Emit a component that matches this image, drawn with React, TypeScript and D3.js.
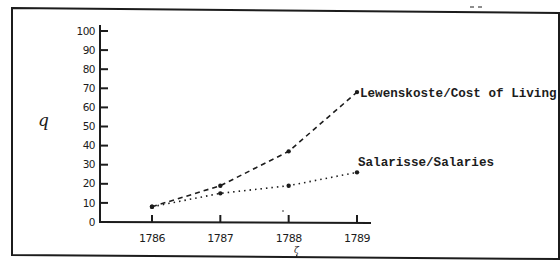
import React from 'react';
import * as d3 from 'd3';

const years = [1786, 1787, 1788, 1789];
const costOfLiving = [8, 19, 37, 68];
const salaries = [8, 15, 19, 26];
const yTicks = [0, 10, 20, 30, 40, 50, 60, 70, 80, 90, 100];
const seriesLabels = ['Lewenskoste/Cost of Living', 'Salarisse/Salaries'];

const W = 560;
const H = 264;

export default function App() {
  const x = d3.scaleLinear().domain([1786, 1789]).range([152, 357]);
  const y = d3.scaleLinear().domain([0, 100]).range([222, 31]);

  const line = d3
    .line<number>()
    .x((_, i) => x(years[i]))
    .y((d) => y(d));

  const ink = '#1c1c1c';
  const tickFont = '"DejaVu Sans", sans-serif';
  const typeFont = '"Liberation Mono", "DejaVu Sans Mono", monospace';

  const lastCost = costOfLiving[costOfLiving.length - 1];
  const lastSal = salaries[salaries.length - 1];
  const lastYear = years[years.length - 1];

  return (
    <svg
      width={W}
      height={H}
      style={{ position: 'absolute', left: 0, top: 0, background: '#fff' }}
    >
      {/* scanned frame, slightly skewed */}
      <path
        d="M12,8 L559,13 L559,259 L12,255 Z"
        fill="none"
        stroke={ink}
        strokeWidth={2}
      />
      {/* scan specks */}
      <path d="M470,7 h4 M478,7 h4" stroke={ink} strokeWidth={1} />
      <circle cx={283} cy={211} r={0.8} fill={ink} />

      {/* y axis */}
      <line x1={100} y1={25} x2={100} y2={y(0) + 1} stroke={ink} strokeWidth={2} />
      {yTicks.map((t) => (
        <g key={t}>
          <line x1={100} x2={108} y1={y(t)} y2={y(t)} stroke={ink} strokeWidth={2} />
          <text
            x={95}
            y={y(t)}
            dy="0.35em"
            textAnchor="end"
            fontFamily={tickFont}
            fontSize={10.5}
            fill={ink}
            letterSpacing={-0.5}
          >
            {t}
          </text>
        </g>
      ))}

      {/* x axis */}
      <line x1={99} y1={y(0)} x2={371} y2={y(0) + 1} stroke={ink} strokeWidth={2} />
      {years.map((yr) => (
        <g key={yr}>
          <line x1={x(yr)} x2={x(yr)} y1={y(0)} y2={y(0) - 7} stroke={ink} strokeWidth={2} />
          <text
            x={x(yr)}
            y={242}
            textAnchor="middle"
            fontFamily={tickFont}
            fontSize={11}
            fill={ink}
            letterSpacing={-0.5}
          >
            {yr}
          </text>
        </g>
      ))}

      {/* handwritten marks */}
      <text x={38} y={126} fontFamily="'DejaVu Serif', serif" fontStyle="italic" fontSize={17} fill={ink}>
        q
      </text>
      <text x={294} y={253} fontFamily="'DejaVu Serif', serif" fontStyle="italic" fontSize={9} fill={ink}>
        ζ
      </text>
      <path d="M297,255 l-1,2.5" stroke={ink} strokeWidth={1.2} fill="none" />

      {/* series */}
      <path
        d={line(costOfLiving) || ''}
        fill="none"
        stroke={ink}
        strokeWidth={1.6}
        strokeDasharray="5 4"
      />
      <path
        d={line(salaries) || ''}
        fill="none"
        stroke={ink}
        strokeWidth={1.6}
        strokeDasharray="1.5 4"
      />
      {costOfLiving.map((v, i) => (
        <circle key={'c' + i} cx={x(years[i])} cy={y(v)} r={2.2} fill={ink} />
      ))}
      {salaries.map((v, i) => (
        <circle key={'s' + i} cx={x(years[i])} cy={y(v)} r={2.2} fill={ink} />
      ))}

      {/* series labels */}
      <text
        x={x(lastYear) + 3}
        y={y(lastCost) + 5}
        fontFamily={typeFont}
        fontWeight="bold"
        fontSize={12.6}
        fill={ink}
      >
        {seriesLabels[0]}
      </text>
      <text
        x={x(lastYear) + 1}
        y={y(lastSal) - 6}
        fontFamily={typeFont}
        fontWeight="bold"
        fontSize={12.6}
        fill={ink}
      >
        {seriesLabels[1]}
      </text>
    </svg>
  );
}
